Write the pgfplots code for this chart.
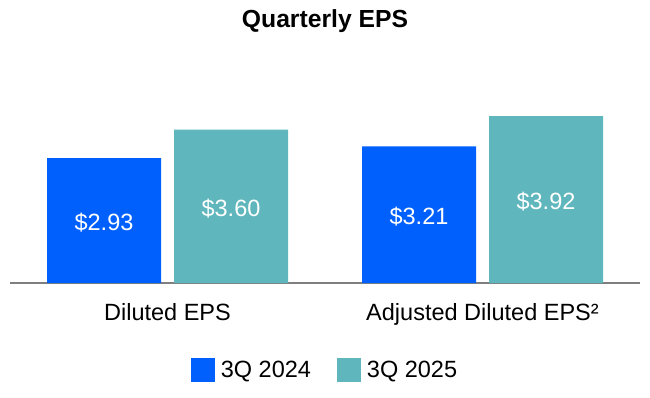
\documentclass[border=0pt]{standalone}
\usepackage{pgfplots}
\pgfplotsset{compat=1.18}
\usepackage{fontspec}
\setmainfont{Liberation Sans}
\definecolor{barblue}{HTML}{0060FE}
\definecolor{barteal}{HTML}{5FB6BC}
\definecolor{axgray}{HTML}{7F7F7F}
\newcommand{\bigfont}{\fontsize{23.5bp}{28bp}\selectfont}
\begin{document}
\begin{tikzpicture}
\path (0,0) rectangle (650bp,-398bp);
\node[font=\fontsize{24.7bp}{29bp}\selectfont\bfseries, anchor=base] at (325bp,-27bp) {Quarterly EPS};
\begin{axis}[
  at={(167.5bp,-283bp)}, anchor=origin,
  scale only axis, width=630bp, height=213bp,
  xmin=-0.5, xmax=1.5, ymin=0, ymax=5,
  axis y line=none,
  axis x line*=bottom,
  axis line style={draw=axgray, line width=1.6bp, -},
  xtick={0,1},
  xticklabels={Diluted EPS, Adjusted Diluted EPS²},
  major tick length=0pt,
  xticklabel style={font=\bigfont, anchor=base, yshift=-37bp},
  /pgf/number format/assume math mode=true,
  ybar, bar width=114bp,
  legend style={at={(0.5,-0.408)}, anchor=center, draw=none, fill=none,
    font=\bigfont, legend columns=2,
    /tikz/every odd column/.append style={column sep=4bp},
    /tikz/every even column/.append style={column sep=24bp}},
  legend image code/.code={\fill[#1] (0bp,-12bp) rectangle (24bp,12bp);},
  clip=false,
]
\addplot[fill=barblue, draw=none, bar shift=-63.5bp] coordinates {(0,2.93) (1,3.21)};
\addlegendentry{3Q 2024}
\addplot[fill=barteal, draw=none, bar shift=63.5bp] coordinates {(0,3.60) (1,3.92)};
\addlegendentry{3Q 2025}
\addplot[draw=none, fill=none, forget plot, bar shift=-63.5bp, point meta=explicit,
  nodes near coords={\$\pgfmathprintnumber[fixed,fixed zerofill,precision=2]{\pgfplotspointmeta}},
  every node near coord/.append style={anchor=center, font=\bigfont, text=white, yshift=-2bp}]
  coordinates {(0,1.465) [2.93] (1,1.605) [3.21]};
\addplot[draw=none, fill=none, forget plot, bar shift=63.5bp, point meta=explicit,
  nodes near coords={\$\pgfmathprintnumber[fixed,fixed zerofill,precision=2]{\pgfplotspointmeta}},
  every node near coord/.append style={anchor=center, font=\bigfont, text=white, yshift=-2bp}]
  coordinates {(0,1.80) [3.60] (1,1.96) [3.92]};
\end{axis}
\end{tikzpicture}
\end{document}
